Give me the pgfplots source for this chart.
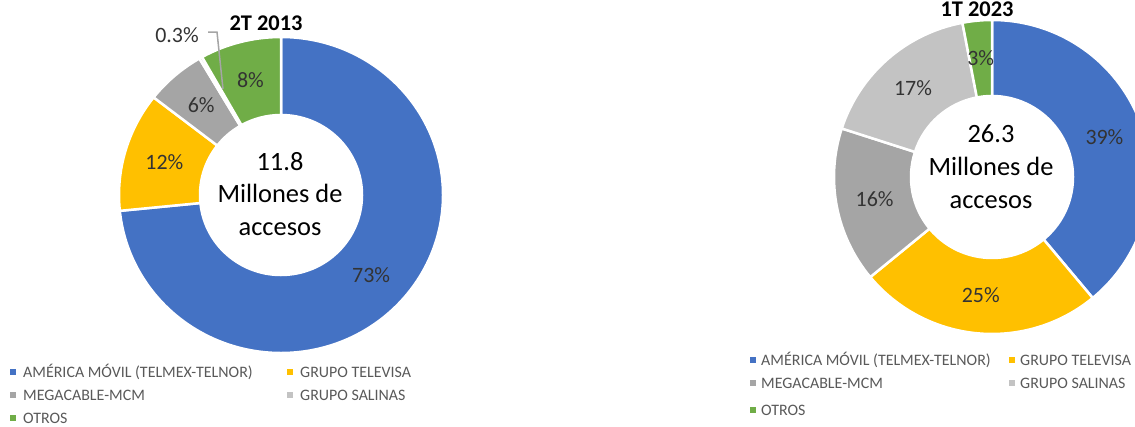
\documentclass[border=0pt]{standalone}
\usepackage{pgfplots}
\usepackage{pgfplotstable}
\pgfplotsset{compat=1.18}
\usepackage{fontspec}
\setmainfont{Carlito}

\definecolor{cAM}{HTML}{4472C4}
\definecolor{cTV}{HTML}{FFC000}
\definecolor{cMC}{HTML}{A5A5A5}
\definecolor{cSA}{HTML}{C3C3C3}
\definecolor{cOT}{HTML}{70AD47}
\definecolor{lbl}{HTML}{333333}
\definecolor{leg}{HTML}{595959}

% shares in percent: 2T 2013 (left) and 1T 2023 (right)
\pgfplotstableread{
idx left right
0 73.4 39
1 12.2 25
2 6.0 16
3 0.3 17
4 8.1 3
}\shares

\newcommand\getv[3]{\pgfplotstablegetelem{#1}{#2}\of\shares\let#3\pgfplotsretval}
\getv{0}{left}\LvA \getv{1}{left}\LvB \getv{2}{left}\LvC \getv{3}{left}\LvD \getv{4}{left}\LvE
\getv{0}{right}\RvA \getv{1}{right}\RvB \getv{2}{right}\RvC \getv{3}{right}\RvD \getv{4}{right}\RvE
\def\Zero{0}
\pgfmathsetmacro\LtA{3.6*\LvA}
\pgfmathsetmacro\LtB{\LtA+3.6*\LvB}
\pgfmathsetmacro\LtC{\LtB+3.6*\LvC}
\pgfmathsetmacro\LtD{\LtC+3.6*\LvD}
\pgfmathsetmacro\LtE{\LtD+3.6*\LvE}
\pgfmathsetmacro\RtA{3.6*\RvA}
\pgfmathsetmacro\RtB{\RtA+3.6*\RvB}
\pgfmathsetmacro\RtC{\RtB+3.6*\RvC}
\pgfmathsetmacro\RtD{\RtC+3.6*\RvD}
\pgfmathsetmacro\RtE{\RtD+3.6*\RvE}

% #1 colour, #2 cx, #3 cy, #4 Rx, #5 Ry, #6 rx, #7 ry, #8 t1, #9 t2 (clockwise from 12 o'clock)
\newcommand\slice[9]{%
  \fill[#1, draw=white, line width=2.5bp]
   (axis cs:{#2+#4*cos(90-#8)},{#3+#5*sin(90-#8)})
   arc[start angle={90-#8}, end angle={90-#9}, x radius=#4bp, y radius=#5bp]
   -- (axis cs:{#2+#6*cos(90-#9)},{#3+#7*sin(90-#9)})
   arc[start angle={90-#9}, end angle={90-#8}, x radius=#6bp, y radius=#7bp]
   -- cycle;}
% #1 cx, #2 cy, #3 mid rx, #4 mid ry, #5 t1, #6 t2, #7 value
\newcommand\plabel[7]{%
  \node[text=lbl, font=\fontsize{22}{26}\selectfont, inner sep=0pt]
   at (axis cs:{#1+#3*cos(90-(#5+#6)/2)},{#2+#4*sin(90-(#5+#6)/2)})
   {\pgfmathprintnumber[fixed,precision=0,assume math mode=true]{#7}\%};}

\begin{document}
\begin{tikzpicture}
\begin{axis}[
  x=1bp, y=1bp,
  xmin=0, xmax=1135, ymin=0, ymax=426,
  hide axis,
]
\coordinate (SW) at (axis cs:0,0);
\coordinate (NE) at (axis cs:1135,426);

% ---- left donut: 2T 2013
\slice{cAM}{281}{231}{162}{158}{81}{80}{\Zero}{\LtA}
\slice{cTV}{281}{231}{162}{158}{81}{80}{\LtA}{\LtB}
\slice{cMC}{281}{231}{162}{158}{81}{80}{\LtB}{\LtC}
\slice{cSA}{281}{231}{162}{158}{81}{80}{\LtC}{\LtD}
\slice{cOT}{281}{231}{162}{158}{81}{80}{\LtD}{\LtE}
\plabel{281}{231}{121.5}{119}{\Zero}{\LtA}{\LvA}
\plabel{281}{231}{121.5}{119}{\LtA}{\LtB}{\LvB}
\plabel{281}{231}{121.5}{119}{\LtB}{\LtC}{\LvC}
\plabel{281}{231}{121.5}{119}{\LtD}{\LtE}{\LvE}
\draw[color=cMC, line width=1.5bp] (axis cs:208,394) -- (axis cs:217,394) -- (axis cs:223,337);
\node[text=lbl, font=\fontsize{22}{26}\selectfont, inner sep=0pt] at (axis cs:177,391) {0.3\%};
\node[align=center, font=\fontsize{26.5}{33}\selectfont, inner sep=0pt] at (axis cs:280,232) {11.8\\Millones de\\accesos};
\node[font=\bfseries\fontsize{22.5}{26}\selectfont, inner sep=0pt] at (axis cs:266,403) {2T 2013};

% ---- right donut: 1T 2023
\slice{cAM}{992}{249}{158}{157}{81}{81}{\Zero}{\RtA}
\slice{cTV}{992}{249}{158}{157}{81}{81}{\RtA}{\RtB}
\slice{cMC}{992}{249}{158}{157}{81}{81}{\RtB}{\RtC}
\slice{cSA}{992}{249}{158}{157}{81}{81}{\RtC}{\RtD}
\slice{cOT}{992}{249}{158}{157}{81}{81}{\RtD}{\RtE}
\plabel{992}{249}{119.5}{119}{\Zero}{\RtA}{\RvA}
\plabel{992}{249}{119.5}{119}{\RtA}{\RtB}{\RvB}
\plabel{992}{249}{119.5}{119}{\RtB}{\RtC}{\RvC}
\plabel{992}{249}{119.5}{119}{\RtC}{\RtD}{\RvD}
\plabel{992}{249}{119.5}{119}{\RtD}{\RtE}{\RvE}
\node[align=center, font=\fontsize{26.5}{33}\selectfont, inner sep=0pt] at (axis cs:991,259) {26.3\\Millones de\\accesos};
\node[font=\bfseries\fontsize{22.5}{26}\selectfont, inner sep=0pt] at (axis cs:977,417) {1T 2023};

% ---- legends
\fill[cAM] (axis cs:10,51) rectangle (axis cs:16,57);
\node[anchor=west, text=leg, font=\fontsize{16}{19}\selectfont, inner sep=0pt] at (axis cs:23,54) {AMÉRICA MÓVIL (TELMEX-TELNOR)};
\fill[cTV] (axis cs:287,51) rectangle (axis cs:293,57);
\node[anchor=west, text=leg, font=\fontsize{16}{19}\selectfont, inner sep=0pt] at (axis cs:300,54) {GRUPO TELEVISA};
\fill[cMC] (axis cs:10,28) rectangle (axis cs:16,34);
\node[anchor=west, text=leg, font=\fontsize{16}{19}\selectfont, inner sep=0pt] at (axis cs:23,31) {MEGACABLE-MCM};
\fill[cSA] (axis cs:287,28) rectangle (axis cs:293,34);
\node[anchor=west, text=leg, font=\fontsize{16}{19}\selectfont, inner sep=0pt] at (axis cs:300,31) {GRUPO SALINAS};
\fill[cOT] (axis cs:10,5) rectangle (axis cs:16,11);
\node[anchor=west, text=leg, font=\fontsize{16}{19}\selectfont, inner sep=0pt] at (axis cs:23,8) {OTROS};

\fill[cAM] (axis cs:750,63) rectangle (axis cs:756,69);
\node[anchor=west, text=leg, font=\fontsize{16}{19}\selectfont, inner sep=0pt] at (axis cs:761,66) {AMÉRICA MÓVIL (TELMEX-TELNOR)};
\fill[cTV] (axis cs:1009,63) rectangle (axis cs:1015,69);
\node[anchor=west, text=leg, font=\fontsize{16}{19}\selectfont, inner sep=0pt] at (axis cs:1020,66) {GRUPO TELEVISA};
\fill[cMC] (axis cs:750,40) rectangle (axis cs:756,46);
\node[anchor=west, text=leg, font=\fontsize{16}{19}\selectfont, inner sep=0pt] at (axis cs:761,43) {MEGACABLE-MCM};
\fill[cSA] (axis cs:1009,40) rectangle (axis cs:1015,46);
\node[anchor=west, text=leg, font=\fontsize{16}{19}\selectfont, inner sep=0pt] at (axis cs:1020,43) {GRUPO SALINAS};
\fill[cOT] (axis cs:750,13) rectangle (axis cs:756,19);
\node[anchor=west, text=leg, font=\fontsize{16}{19}\selectfont, inner sep=0pt] at (axis cs:761,16) {OTROS};
\end{axis}
\pgfresetboundingbox
\path[use as bounding box] (SW) rectangle (NE);
\end{tikzpicture}
\end{document}
